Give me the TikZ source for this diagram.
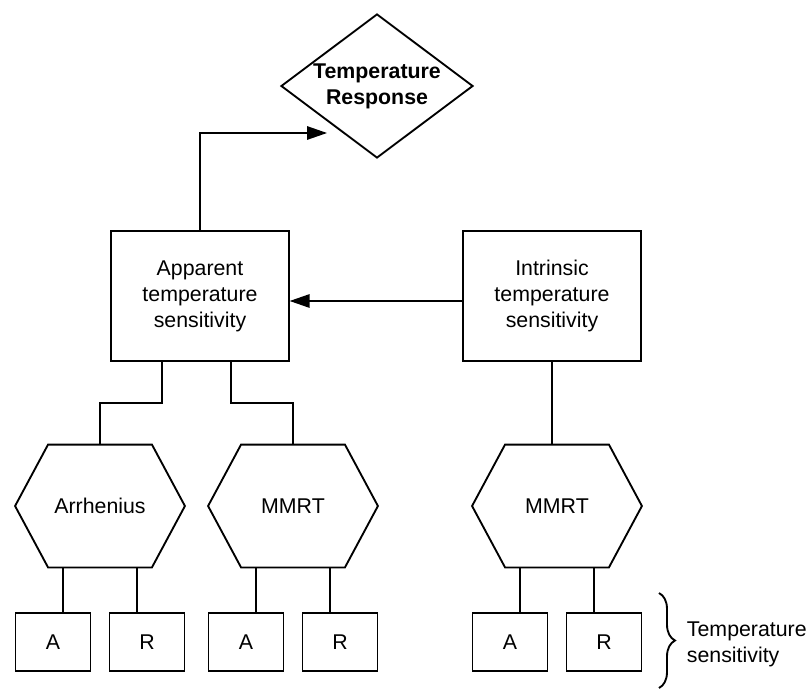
\documentclass[tikz,border=0pt]{standalone}
\usepackage{fontspec}
\setmainfont{Liberation Sans}
\usetikzlibrary{shapes, arrows.meta, calc, positioning, decorations.pathreplacing}

\begin{document}
\begin{tikzpicture}[x=0.75pt, y=-0.75pt, line width=1.4pt,
        box/.style = {draw, rectangle, align=center, minimum width=133pt, minimum height=98pt, inner sep=0pt},
        hexa/.style = {rectangle, minimum width=126pt, minimum height=90.75pt, inner sep=0pt},
        leaf/.style = {draw, rectangle, minimum width=56.25pt, minimum height=43.5pt, inner sep=0pt},
        arr/.style = {-{Triangle[length=15pt, width=10pt]}}]
    \useasboundingbox (0,0) rectangle (808,689);
    \begin{scope}[every node/.style = {font=\fontsize{16}{19.5}\selectfont}]
        \node[draw, diamond, aspect=1.33, align=center, inner sep=0pt, minimum width=144pt, minimum height=108pt,
              font=\bfseries\fontsize{16}{19.5}\selectfont] (R) at (377,86) {Temperature\\Response};
        \node[box] (app) at (200,296) {Apparent\\temperature\\sensitivity};
        \node[box] (intr) at (552,296) {Intrinsic\\temperature\\sensitivity};
        \foreach \h/\x/\t in {Arr/100/Arrhenius, MMa/293/MMRT, MMi/557/MMRT}{
            \node[hexa] (\h) at (\x,506) {\t};
            \draw (\h.west) -- ([xshift=24.75pt]\h.north west) -- ([xshift=-24.75pt]\h.north east)
                -- (\h.east) -- ([xshift=-24.75pt]\h.south east) -- ([xshift=24.75pt]\h.south west) -- cycle;
            \node[leaf] (\h A) at (\x-47,642) {A};
            \node[leaf] (\h R) at (\x+47,642) {R};
            \draw ([xshift=-27.75pt]\h.south) -- ([xshift=-27.75pt]\h.south |- \h A.north);
            \draw ([xshift=27.75pt]\h.south) -- ([xshift=27.75pt]\h.south |- \h R.north);
        }
        \node[anchor=west, align=left, inner sep=0pt] (tsens) at (686,644) {Temperature\\sensitivity};
    \end{scope}
    % connectors
    \draw[arr] (app.north) |- ([xshift=35.25pt, yshift=-35.25pt]R.west);
    \draw[arr] ([yshift=-3.75pt]intr.west) -- ([yshift=-3.75pt]app.east);
    \draw ([xshift=-28.5pt]app.south) -- ++(0,41) -| (Arr.north);
    \draw ([xshift=23.25pt]app.south) -- ++(0,41) -| (MMa.north);
    \draw (intr.south) -- (intr.south |- MMi.north);
    % brace
    \coordinate (bt) at (659,593);
    \coordinate (bb) at (659,688);
    \draw[decorate, decoration={brace, amplitude=12pt}] (bt) -- (bb);
\end{tikzpicture}
\end{document}
